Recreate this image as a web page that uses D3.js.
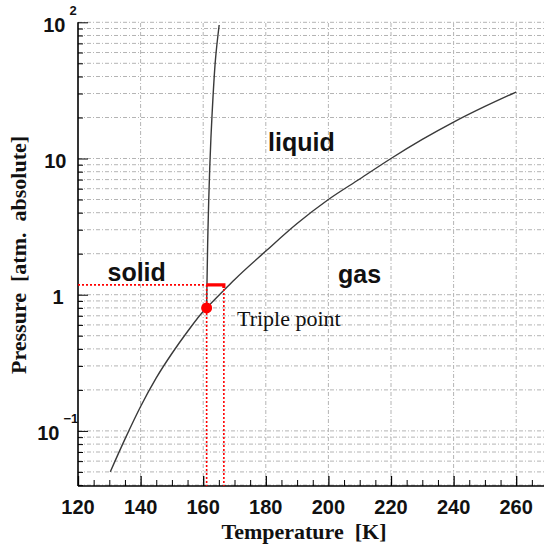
<!DOCTYPE html>
<html lang="en">
<head>
  <meta charset="UTF-8" />
  <title>Xenon phase diagram</title>
  <script src="https://cdn.jsdelivr.net/npm/d3@7"></script>
  <style>
    body { margin: 0; background: #fff; }
    svg { display: block; }
    .tick-label { font-family: "Liberation Sans", Arial, sans-serif; font-weight: bold; font-size: 20px; fill: #111; }
    .title { font-family: "Liberation Serif", "Times New Roman", serif; font-weight: bold; font-size: 22px; fill: #111; }
    .region { font-family: "Liberation Sans", Arial, sans-serif; font-weight: bold; font-size: 25px; fill: #111; }
    .note { font-family: "Liberation Serif", "Times New Roman", serif; font-size: 22px; fill: #111; }
    .grid line { stroke: #b4b4b4; stroke-width: 1; stroke-dasharray: 4,2,1,2; }
  </style>
</head>
<body>
<svg width="544" height="547"></svg>
<script>
  // temperature [K] and pressure [atm]
  const tempTicks = [120, 140, 160, 180, 200, 220, 240, 260];
  const pressureLabels = [0.1, 1, 10, 100];

  const vaporT = [130.3, 135, 140, 145, 150, 155, 160, 161.1, 167, 170, 180, 190, 200, 210, 220, 230, 240, 250, 260];
  const vaporP = [0.050, 0.087, 0.151, 0.245, 0.370, 0.537, 0.753, 0.80, 1.10, 1.29, 2.09, 3.33, 5.0, 7.07, 10.0, 13.8, 18.5, 24.1, 30.8];

  const meltT = [161.1, 161.2, 161.5, 162.1, 162.8, 163.9, 165.1];
  const meltP = [0.80, 1.18, 2.84, 8.7, 20.3, 52.8, 95.5];

  const triple = { T: 161.1, p: 0.80 };
  const operating = { T1: 161.1, T2: 166.6, p: 1.18 };

  const svg = d3.select('svg');

  const x = d3.scaleLinear().domain([120, 270]).range([78, 547.5]);
  const y = d3.scaleLog().domain([0.0394, 100]).range([486, 22.3]);

  // every 1..9 x decade inside the y range
  const yMinor = [];
  [0.01, 0.1, 1, 10].forEach(dec => {
    for (let k = 1; k <= 9; k++) {
      const v = +(k * dec).toPrecision(3);
      if (v >= 0.0394 && v <= 100) yMinor.push(v);
    }
  });
  yMinor.push(100);
  const xMinor = d3.range(120, 271, 5);

  // grid
  const grid = svg.append('g').attr('class', 'grid');
  grid.selectAll('line.h').data(yMinor).enter().append('line')
    .attr('class', 'h')
    .attr('x1', x(120)).attr('x2', 544)
    .attr('y1', d => y(d)).attr('y2', d => y(d));
  grid.selectAll('line.v').data(tempTicks.slice(1)).enter().append('line')
    .attr('class', 'v')
    .attr('x1', d => x(d)).attr('x2', d => x(d))
    .attr('y1', y.range()[0]).attr('y2', y.range()[1]);

  // axes, ROOT style ticks pointing inwards
  const xAxis = svg.append('g')
    .attr('transform', `translate(0,${y.range()[0]})`)
    .call(d3.axisTop(x).tickValues(xMinor).tickSize(6).tickFormat(''));
  xAxis.selectAll('.tick line').attr('stroke-width', d => d % 20 === 0 ? 1.3 : 1).attr('y2', d => d % 20 === 0 ? -10 : -6);
  xAxis.select('.domain').attr('stroke-width', 1.6).attr('d', `M${x(120)},0H544`);

  const yAxis = svg.append('g')
    .attr('transform', `translate(${x(120)},0)`)
    .call(d3.axisRight(y).tickValues(yMinor).tickSize(5).tickFormat(''));
  yAxis.selectAll('.tick line').attr('x2', d => pressureLabels.includes(d) ? 10 : 5);
  yAxis.select('.domain').attr('stroke-width', 1.6).attr('d', `M0,${y.range()[0]}V${y.range()[1]}`);

  // x tick labels
  svg.append('g').selectAll('text').data(tempTicks).enter().append('text')
    .attr('class', 'tick-label')
    .attr('x', d => x(d)).attr('y', 513.5)
    .attr('text-anchor', 'middle')
    .text(d => d);

  // y tick labels (10^-1, 1, 10, 10^2)
  const yl = svg.append('g');
  pressureLabels.forEach(v => {
    const e = Math.round(Math.log10(v));
    if (e === 0 || e === 1) {
      yl.append('text').attr('class', 'tick-label')
        .attr('x', e === 0 ? 63.5 : 66.5).attr('y', y(v) + 9)
        .attr('text-anchor', 'end').text(e === 0 ? '1' : '10');
    } else {
      const baseEnd = e === 2 ? 65.5 : 59.5;
      yl.append('text').attr('class', 'tick-label')
        .attr('x', baseEnd).attr('y', y(v) + 9.5)
        .attr('text-anchor', 'end').text('10');
      yl.append('text').attr('class', 'tick-label')
        .attr('x', baseEnd + 4).attr('y', y(v) - 7.5)
        .style('font-size', '13px')
        .text(e === 2 ? '2' : '\u22121');
    }
  });

  // curves
  svg.append('path')
    .datum(d3.zip(vaporT, vaporP))
    .attr('d', d3.line().x(d => x(d[0])).y(d => y(d[1])).curve(d3.curveMonotoneX))
    .attr('fill', 'none').attr('stroke', '#3a3a3a').attr('stroke-width', 1.4);
  svg.append('path')
    .datum(d3.zip(meltT, meltP))
    .attr('d', d3.line().x(d => x(d[0])).y(d => y(d[1])).curve(d3.curveCatmullRom))
    .attr('fill', 'none').attr('stroke', '#3a3a3a').attr('stroke-width', 1.4);

  // red markers
  const red = '#f00';
  const dotted = svg.append('g').attr('stroke', red).attr('stroke-width', 1.6).attr('stroke-dasharray', '2,2');
  dotted.append('line')
    .attr('x1', x(120)).attr('x2', x(operating.T1))
    .attr('y1', y(operating.p)).attr('y2', y(operating.p));
  [operating.T1, operating.T2].forEach(t => {
    dotted.append('line')
      .attr('x1', x(t)).attr('x2', x(t))
      .attr('y1', y(operating.p)).attr('y2', y.range()[0]);
  });
  svg.append('path')
    .attr('d', `M${x(operating.T1)},${y(operating.p)}H${x(operating.T2)}v3`)
    .attr('fill', 'none').attr('stroke', red).attr('stroke-width', 3.2);
  svg.append('circle')
    .attr('cx', x(triple.T)).attr('cy', y(triple.p)).attr('r', 5.5)
    .attr('fill', red);

  // region labels
  svg.append('text').attr('class', 'region').attr('x', 268).attr('y', 150.5).text('liquid');
  svg.append('text').attr('class', 'region').attr('x', 107.5).attr('y', 281).text('solid');
  svg.append('text').attr('class', 'region').attr('x', 338).attr('y', 283).text('gas');
  svg.append('text').attr('class', 'note').attr('x', 237).attr('y', 325.5).text('Triple point');

  // axis titles
  svg.append('text').attr('class', 'title')
    .attr('x', 304).attr('y', 539)
    .attr('text-anchor', 'middle')
    .attr('xml:space', 'preserve')
    .text('Temperature  [K]');
  svg.append('text').attr('class', 'title')
    .attr('transform', 'translate(26,255) rotate(-90)')
    .attr('text-anchor', 'middle')
    .attr('xml:space', 'preserve')
    .text('Pressure  [atm.  absolute]');
</script>
</body>
</html>
